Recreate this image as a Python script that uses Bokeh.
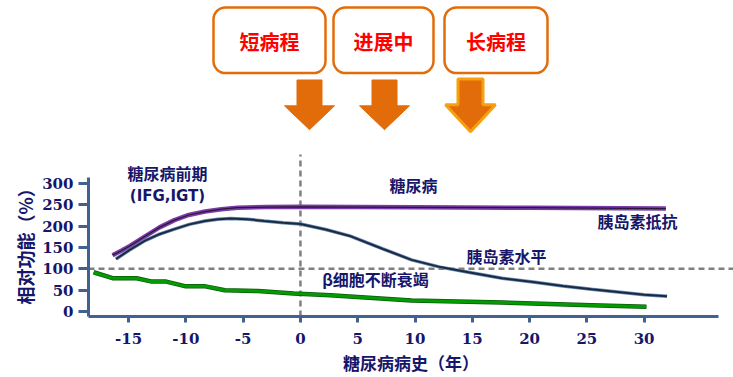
from bokeh.plotting import figure
from bokeh.models import Range1d, FixedTicker, Label, BoxAnnotation, Title
from bokeh.embed import file_html
from bokeh.resources import INLINE

# ---- data (years of diabetes history, relative function %) ----
resist_x = [-16.4, -15.6, -14.85, -13.56, -12.3, -11.0, -9.75, -8.33, -6.9, -5.5, -3.0, 0.0,
            10.0, 20.0, 31.9]
resist_y = [132, 143, 154, 176, 197, 214, 226, 234, 239.5, 243, 244.5, 245,
            244, 243, 241]

insulin_x = [-16.1, -14.8, -13.56, -12.3, -11.0, -9.7, -8.33, -7.2, -6.1, -4.6, -3.15, -1.5, 0.0,
             2.2, 4.3, 7.2, 9.7, 12.2, 14.9, 17.6, 20.3, 22.9, 25.4, 27.7, 30.0, 32.0]
insulin_y = [123, 146, 166, 181, 193, 204, 212, 216, 218, 216, 212, 208, 205,
             192, 177, 146.5, 121, 104, 91, 78, 69, 60, 52, 46, 39.5, 35.6]

beta_x = [-18.05, -16.4, -14.3, -13.05, -11.8, -10.0, -8.3, -6.6, -3.7, -0.6, 2.6,
          9.7, 17.6, 25.4, 30.2]
beta_y = [92, 78, 78, 70.5, 70.5, 59, 59, 50, 48, 42, 38, 26, 21, 15, 11]

x_ticks = [-15, -10, -5, 0, 5, 10, 15, 20, 25, 30]
y_ticks = [0, 50, 100, 150, 200, 250, 300]
stage_labels = ["短病程", "进展中", "长病程"]

NAVY = "#16166a"
AXIS = "#41628f"
ORANGE = "#e36c0a"
CJK = "Noto Sans CJK SC"

W, H = 733, 377
LEFT, BOTTOM = 88, 59
X0, X1 = -18.5, 37.8
Y0, Y1 = -11.6, 728.0
FW, FH = W - LEFT, H - BOTTOM


def px2x(px):
    return X0 + (px - LEFT) * (X1 - X0) / FW


def py2y(py):
    return Y0 + (FH - py) * (Y1 - Y0) / FH


p = figure(width=W, height=H, output_backend="svg", toolbar_location=None,
           x_range=Range1d(X0, X1), y_range=Range1d(Y0, Y1),
           min_border_left=LEFT, min_border_right=0, min_border_top=0,
           min_border_bottom=BOTTOM)
p.outline_line_color = None
p.xgrid.visible = False
p.ygrid.visible = False
p.background_fill_color = "white"

for ax in (p.xaxis[0], p.yaxis[0]):
    ax.axis_line_color = AXIS
    ax.axis_line_width = 3
    ax.major_tick_line_color = AXIS
    ax.major_tick_line_width = 3
    ax.minor_tick_line_color = None
    ax.major_tick_in = 0
    ax.major_label_text_font = "DejaVu Serif"
    ax.major_label_text_font_style = "bold"
    ax.major_label_text_font_size = "15px"
    ax.major_label_text_color = NAVY
    ax.axis_label_text_font = CJK
    ax.axis_label_text_font_style = "bold"
    ax.axis_label_text_color = NAVY

p.xaxis.ticker = FixedTicker(ticks=x_ticks)
p.yaxis.ticker = FixedTicker(ticks=y_ticks)
p.xaxis.major_label_overrides = {t: str(t) for t in x_ticks}
p.xaxis.major_tick_out = 6
p.yaxis.major_tick_out = 10
p.xaxis.major_label_standoff = 10
p.yaxis.major_label_standoff = 5
p.yaxis.bounds = (Y0, 314)
p.xaxis.bounds = (X0, 36.5)
p.xaxis.axis_label = "糖尿病病史（年）"
p.xaxis.axis_label_text_font_size = "17px"
p.xaxis.axis_label_standoff = 3

ytitle = Title(text="相对功能（%）", align="left", offset=12,
               text_font=CJK, text_font_size="18px", text_font_style="bold",
               text_color=NAVY, standoff=4)
p.add_layout(ytitle, "left")

# dashed reference lines
p.line([X0, X1], [100, 100], line_color="#808080", line_width=2.5, line_dash="6 4")
p.line([0, 0], [Y0, py2y(155)], line_color="#808080", line_width=2.5, line_dash="6 4")

# curves
p.line(resist_x, resist_y, line_color="#7b3aa8", line_width=4.5)
p.line(resist_x, resist_y, line_color="#2a1838", line_width=1.2)
p.line(insulin_x, insulin_y, line_color="#6d8db0", line_width=3.5)
p.line(insulin_x, insulin_y, line_color="#1b2a44", line_width=2)
p.line(beta_x, beta_y, line_color="#0b5a0b", line_width=4.5)
p.line(beta_x, beta_y, line_color="#049a04", line_width=3)


def lab(txt, cx, cy, size, font=CJK, color=NAVY):
    p.add_layout(Label(x=px2x(cx), y=py2y(cy), text=txt, text_font=font,
                       text_font_size=f"{size}px", text_font_style="bold",
                       text_color=color, text_align="center",
                       text_baseline="middle"))


lab("糖尿病前期", 167, 174, 16)
lab("(IFG,IGT)", 167, 197, 15, font="DejaVu Sans")
lab("糖尿病", 413, 186, 16)
lab("胰岛素抵抗", 637, 222, 16)
lab("胰岛素水平", 506, 257, 16)
lab("β细胞不断衰竭", 375, 280, 16)

# stage boxes
boxes = [(213, 325), (333, 433), (444, 547)]
for (l, r), txt in zip(boxes, stage_labels):
    p.add_layout(BoxAnnotation(left=px2x(l), right=px2x(r), top=py2y(7), bottom=py2y(73),
                               fill_color="white", fill_alpha=1.0, line_color=ORANGE,
                               line_width=2.5, line_alpha=1.0, border_radius=12))
    lab(txt, (l + r) / 2, 41, 20, color="#ff0000")

# down arrows
arrows = [(309, 80, 130, None), (384, 80, 130, None), (470, 79, 132, "#f5a00c")]
for cx, top, tip, edge in arrows:
    xs_px = [cx - 12.5, cx + 12.5, cx + 12.5, cx + 25, cx, cx - 25, cx - 12.5]
    ys_px = [top, top, top + 26, top + 26, tip, top + 26, top + 26]
    p.patch([px2x(v) for v in xs_px], [py2y(v) for v in ys_px],
            fill_color=ORANGE, line_color=edge if edge else ORANGE,
            line_width=3 if edge else 1)

open("out.html", "w").write(file_html(p, INLINE))
